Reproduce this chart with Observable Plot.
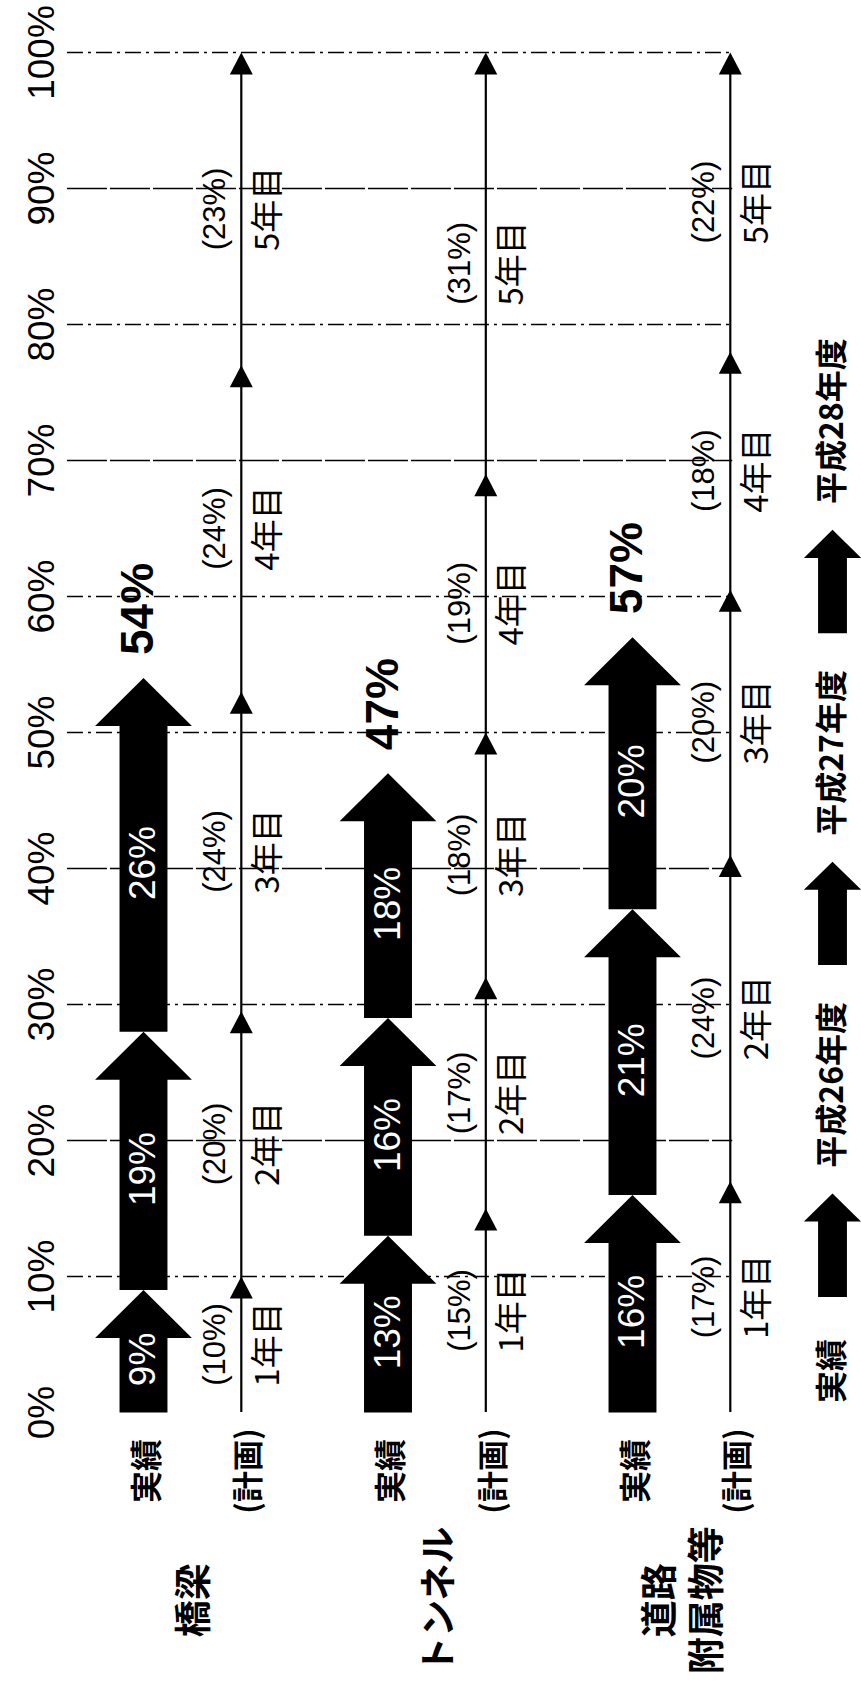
<!DOCTYPE html>
<html><head><meta charset="utf-8">
<script src="https://cdn.jsdelivr.net/npm/d3@7"></script>
<script src="https://cdn.jsdelivr.net/npm/@observablehq/plot@0.6"></script>
<style>body{margin:0;background:#fff} #chart svg{display:block;background:#fff}</style>
</head><body><div id="chart"></div>
<script>
// ---- data ----
const groups = ["橋梁", "トンネル", "道路\n附属物等"];
const years = ["平成26年度", "平成27年度", "平成28年度"];
const actualPct = [[9, 19, 26], [13, 16, 18], [16, 21, 20]];
const planPct = [[10, 20, 24, 24, 23], [15, 17, 18, 19, 31], [17, 24, 20, 18, 22]];
const planEnds = [[10, 29.5, 53, 77, 100], [15, 32, 50, 69, 100], [17, 41, 60.5, 78, 100]];
const planYears = ["1年目", "2年目", "3年目", "4年目", "5年目"];
const yTicks = [0, 10, 20, 30, 40, 50, 60, 70, 80, 90, 100];
const rowLabels = ["実績", "(計画)"];
const legendLabels = ["実績", "平成26年度", "平成27年度", "平成28年度"];

// ---- layout constants ----
const NUM = "Liberation Sans";
const JP = "Noto Sans CJK JP";
const PLAN_OFF = 0.40;
const SHAFT = 0.098, HEAD = 0.198, HEADLEN = 3.53;
const SW = 0.047, SH = 1.62;
const LEG_X = 2.818, LEG_SHAFT = 0.059, LEG_HEAD = 0.117, LEG_HEADLEN = 2.06, LEG_LEN = 7.6;
const dashDotTicks = new Set([10, 30, 50, 60, 80, 100]);

function arrowPoly(id, c, y0, y1, sw, hw, hl) {
  const yb = y1 - hl;
  return [[c - sw, y0], [c - sw, yb], [c - hw, yb], [c, y1], [c + hw, yb], [c + sw, yb], [c + sw, y0]]
    .map(([x, y]) => ({id, x, y}));
}

// actual arrows
const bigPts = [], bigLabels = [], totals = [];
actualPct.forEach((vals, g) => {
  const ends = d3.cumsum(vals);
  vals.forEach((v, i) => {
    const s = i === 0 ? 0 : ends[i - 1], e = ends[i];
    bigPts.push(...arrowPoly(`a${g}-${i}`, g, s, e, SHAFT, HEAD, HEADLEN));
    bigLabels.push({x: g, y: (s + e) / 2 - 0.6, text: v + "%"});
  });
  totals.push({x: g, y: ends[ends.length - 1] + 1.7, text: d3.sum(vals) + "%"});
});

// plan arrows
const smallPts = [], planL = [], planR = [], planLines = [];
planEnds.forEach((ends, g) => {
  const c = g + PLAN_OFF;
  planLines.push({x: c});
  ends.forEach((e, i) => {
    const s = i === 0 ? 0 : ends[i - 1];
    [[c - SW, e - SH], [c, e], [c + SW, e - SH]].forEach(([x, y]) => smallPts.push({id: `p${g}-${i}`, x, y}));
    planL.push({x: c, y: (s + e) / 2, text: `(${planPct[g][i]}%)`});
    planR.push({x: c, y: (s + e) / 2, text: planYears[i]});
  });
});

// legend
const legPts = [], legText = [];
years.forEach((yr, k) => {
  const base = 8.5 + 24.4 * k;
  legPts.push(...arrowPoly(`l${k}`, LEG_X, base, base + LEG_LEN, LEG_SHAFT, LEG_HEAD, LEG_HEADLEN));
  legText.push({x: LEG_X, y: base + 9.5, text: yr});
});
legText.unshift({x: LEG_X, y: 0.7, text: legendLabels[0]});

const rowL = [];
groups.forEach((grp, g) => {
  rowL.push({x: g, dx: 4, text: rowLabels[0]});
  rowL.push({x: g + PLAN_OFF, dx: 8, text: rowLabels[1]});
});

const chart = Plot.plot({
  width: 861, height: 1696,
  marginTop: 0, marginRight: 0, marginBottom: 0, marginLeft: 0,
  x: {type: "linear", domain: [0, 1], range: [143, 387.5], axis: null},
  y: {type: "linear", domain: [0, 100], range: [1412, 52], axis: null},
  marks: [
    Plot.ruleY(yTicks.filter(t => t > 0 && !dashDotTicks.has(t)), {y: d => d, x1: -0.311, x2: 2.41, stroke: "#000", strokeWidth: 1.6, strokeDasharray: "40,3"}),
    Plot.ruleY(yTicks.filter(t => dashDotTicks.has(t)), {y: d => d, x1: -0.311, x2: 2.41, stroke: "#000", strokeWidth: 1.6, strokeDasharray: "16,5,3,5"}),
    Plot.text(yTicks, {y: d => d, frameAnchor: "left", textAnchor: "middle", lineAnchor: "middle", dx: 42, text: d => d + "%", rotate: -90, fontSize: 37, fontFamily: NUM, fill: "#000"}),
    Plot.ruleX(planLines, {x: "x", y1: 0, y2: 99, stroke: "#000", strokeWidth: 2.2}),
    Plot.line(smallPts, {x: "x", y: "y", z: "id", fill: "#000", stroke: "none"}),
    Plot.line(bigPts, {x: "x", y: "y", z: "id", fill: "#000", stroke: "none"}),
    Plot.text(bigLabels, {x: "x", y: "y", text: "text", rotate: -90, fill: "#fff", fontSize: 37, fontFamily: NUM}),
    Plot.text(totals, {x: "x", y: "y", text: "text", rotate: -90, textAnchor: "start", dx: -5, fontSize: 46, fontWeight: "bold", fontFamily: NUM, fill: "#000"}),
    Plot.text(planL, {x: "x", y: "y", text: "text", rotate: -90, dx: -26, fontSize: 31, fontFamily: NUM, fill: "#000"}),
    Plot.text(planR, {x: "x", y: "y", text: "text", rotate: -90, dx: 27, fontSize: 33, fontFamily: JP, fill: "#000"}),
    Plot.text(rowL.filter(d => d.dx === 4), {x: "x", y: -4.3, text: "text", rotate: -90, dx: 4, fontSize: 32, fontWeight: "bold", fontFamily: JP, fill: "#000"}),
    Plot.text(rowL.filter(d => d.dx === 8), {x: "x", y: -4.3, text: "text", rotate: -90, dx: 8, fontSize: 31, fontWeight: "bold", fontFamily: JP, fill: "#000"}),
    Plot.text(groups, {x: (d, i) => i + 0.2, y: -13.8, text: d => d, rotate: -90, fontSize: 37, lineHeight: 1.27, fontWeight: "bold", fontFamily: JP, fill: "#000"}),
    Plot.line(legPts, {x: "x", y: "y", z: "id", fill: "#000", stroke: "none"}),
    Plot.text(legText, {x: "x", y: "y", text: "text", rotate: -90, textAnchor: "start", fontSize: 32, fontWeight: "bold", fontFamily: JP, fill: "#000"})
  ]
});
document.getElementById("chart").append(chart);
</script>
</body></html>
